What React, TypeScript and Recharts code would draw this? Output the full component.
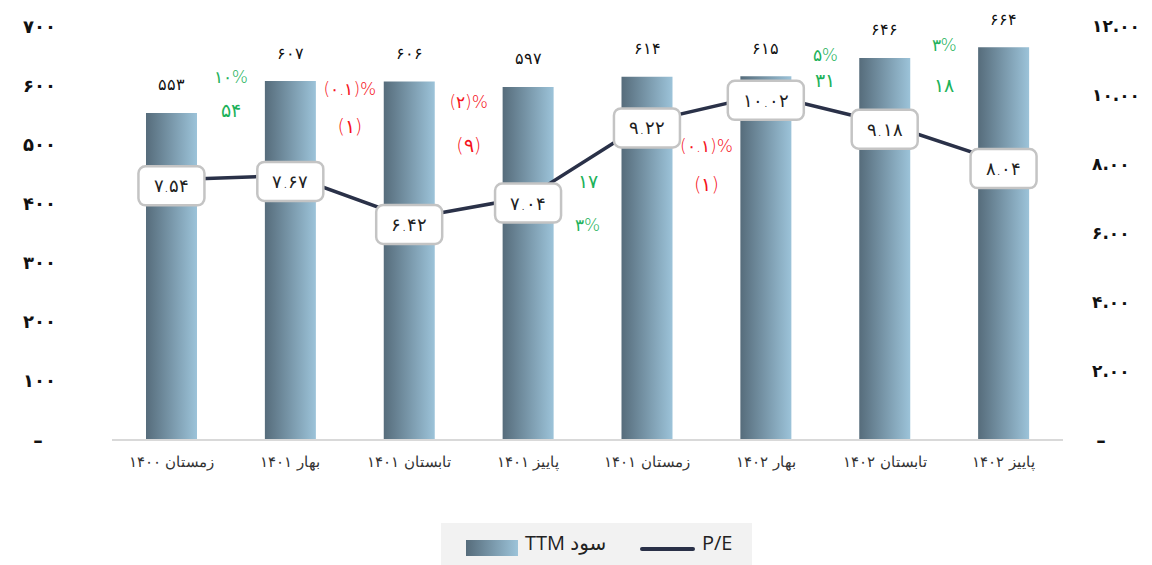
import React from "react";
import { ComposedChart, Bar, Line, XAxis, YAxis, LabelList } from "recharts";

const categories = [
  "زمستان ۱۴۰۰",
  "بهار ۱۴۰۱",
  "تابستان ۱۴۰۱",
  "پاییز ۱۴۰۱",
  "زمستان ۱۴۰۱",
  "بهار ۱۴۰۲",
  "تابستان ۱۴۰۲",
  "پاییز ۱۴۰۲",
];
const profitTTM = [553, 607, 606, 597, 614, 615, 646, 664];
const peRatio = [7.54, 7.67, 6.42, 7.04, 9.22, 10.02, 9.18, 8.04];
const changeAbs = [54, -1, -9, 17, -1, 31, 18];
const changePct = ["10", "-0.1", "-2", "3", "-0.1", "5", "3"];
const leftTicks = [0, 100, 200, 300, 400, 500, 600, 700];
const rightTicks = [0, 2, 4, 6, 8, 10, 12];

// vertical placement of the change annotations, in left-axis units
const annPctY = [614, 594, 572, 364, 497, 651, 668];
const annAbsY = [558, 531, 499, 438, 433, 609, 601];

const data = categories.map((c, i) => ({ label: c, profit: profitTTM[i], pe: peRatio[i] }));

const FA = "۰۱۲۳۴۵۶۷۸۹";
const toFa = (s: string) => s.replace(/[0-9]/g, (d) => FA[Number(d)]);
const FONT = "'DejaVu Sans', sans-serif";
const GREEN = "#1db25a";
const RED = "#f5121b";

const fmtPct = (s: string) => (s.startsWith("-") ? `(${toFa(s.slice(1))})%` : `${toFa(s)}%`);
const fmtAbs = (v: number) => (v < 0 ? `(${toFa(String(-v))})` : toFa(String(v)));

const LeftTick = (props: any) => {
  const { y, payload } = props;
  if (payload.value === 0)
    return (
      <text x={38} y={y} textAnchor="middle" dominantBaseline="central" fontFamily={FONT} fontSize={19} fontWeight="bold" fill="#111">
        –
      </text>
    );
  return (
    <text x={56} y={y} textAnchor="end" dominantBaseline="central" fontFamily={FONT} fontSize={18} fontWeight="600" fill="#111">
      {toFa(String(payload.value))}
    </text>
  );
};

const RightTick = (props: any) => {
  const { y, payload } = props;
  if (payload.value === 0)
    return (
      <text x={1101} y={y} textAnchor="middle" dominantBaseline="central" fontFamily={FONT} fontSize={19} fontWeight="bold" fill="#111">
        –
      </text>
    );
  return (
    <text x={1092} y={y} textAnchor="start" dominantBaseline="central" fontFamily={FONT} fontSize={17} fontWeight="600" fill="#111">
      {toFa(payload.value.toFixed(2))}
    </text>
  );
};

const XTick = (props: any) => {
  const { x, y, payload } = props;
  return (
    <text x={x} y={y + 14} textAnchor="middle" dominantBaseline="central" fontFamily={FONT} fontSize={15} fontWeight={300} fill="#333">
      {payload.value}
    </text>
  );
};

const BarLabel = (props: any) => {
  const { x, y, width, height, index, value } = props;
  const cx = x + width / 2;
  const base = y + height;
  const k = height / value;
  const step = 118.9;
  const mid = cx + step / 2;
  const items: React.ReactNode[] = [];
  if (index < changeAbs.length) {
    const neg = changeAbs[index] < 0;
    const col = neg ? RED : GREEN;
    items.push(
      <text key="p" x={mid} y={base - annPctY[index] * k} textAnchor="middle" dominantBaseline="central" fontFamily={FONT} fontSize={17} fontWeight={300} fill={col}>
        {fmtPct(changePct[index])}
      </text>
    );
    items.push(
      <text key="a" x={mid} y={base - annAbsY[index] * k} textAnchor="middle" dominantBaseline="central" fontFamily={FONT} fontSize={19} fontWeight={300} fill={col}>
        {fmtAbs(changeAbs[index])}
      </text>
    );
  }
  return (
    <g>
      <text x={cx} y={y - 28} textAnchor="middle" dominantBaseline="central" fontFamily={FONT} fontSize={16} fontWeight={300} fill="#111">
        {toFa(String(value))}
      </text>
      {items}
    </g>
  );
};

const PeLabel = (props: any) => {
  const { x, y, value } = props;
  const txt = toFa(String(value));
  const w = 26 + txt.length * 10;
  const h = 39;
  const cy = y + 6;
  return (
    <g>
      <rect x={x - w / 2} y={cy - h / 2} width={w} height={h} rx={7} ry={7} fill="#fff" stroke="#c4c4c4" strokeWidth={2.5} />
      <text x={x} y={cy} textAnchor="middle" dominantBaseline="central" fontFamily={FONT} fontSize={18} fontWeight={300} fill="#222">
        {txt}
      </text>
    </g>
  );
};

export default function App() {
  return (
    <div style={{ position: "absolute", left: 0, top: 0, width: 1152, height: 565, background: "#fff" }}>
      <ComposedChart width={1152} height={500} data={data} margin={{ top: 26, right: 0, bottom: 30, left: 0 }}>
        <defs>
          <linearGradient id="barGrad" x1="0" y1="0" x2="1" y2="0">
            <stop offset="0%" stopColor="#566c7b" />
            <stop offset="100%" stopColor="#9cc3d9" />
          </linearGradient>
        </defs>
        <XAxis dataKey="label" tick={<XTick />} tickLine={false} axisLine={{ stroke: "#d9d9d9", strokeWidth: 2 }} height={30} interval={0} />
        <YAxis yAxisId="left" domain={[0, 700]} ticks={leftTicks} width={112} tick={<LeftTick />} tickLine={false} axisLine={false} />
        <YAxis yAxisId="right" orientation="right" domain={[0, 12]} ticks={rightTicks} width={89} tick={<RightTick />} tickLine={false} axisLine={false} />
        <Bar yAxisId="left" dataKey="profit" barSize={51} fill="url(#barGrad)" isAnimationActive={false}>
          <LabelList dataKey="profit" content={<BarLabel />} />
        </Bar>
        <Line yAxisId="right" dataKey="pe" type="linear" stroke="#2a3148" strokeWidth={3.5} dot={false} isAnimationActive={false}>
          <LabelList dataKey="pe" content={<PeLabel />} />
        </Line>
      </ComposedChart>
      <div
        style={{
          position: "absolute",
          left: 441,
          top: 523,
          width: 311,
          height: 42,
          background: "#f2f2f2",
          fontFamily: "'Open Sans', 'DejaVu Sans', sans-serif",
          fontSize: 20,
          color: "#222",
        }}
      >
        <div style={{ position: "absolute", left: 25, top: 17, width: 52, height: 16, background: "linear-gradient(to right, #566c7b, #9cc3d9)" }} />
        <div style={{ position: "absolute", left: 84, top: 6, lineHeight: "28px", whiteSpace: "nowrap" }}>
          <span dir="rtl">سود TTM</span>
        </div>
        <div style={{ position: "absolute", left: 199, top: 24, width: 55, height: 3.5, borderRadius: 2, background: "#2a3148" }} />
        <div style={{ position: "absolute", left: 261, top: 6, lineHeight: "28px", whiteSpace: "nowrap" }}>P/E</div>
      </div>
    </div>
  );
}
